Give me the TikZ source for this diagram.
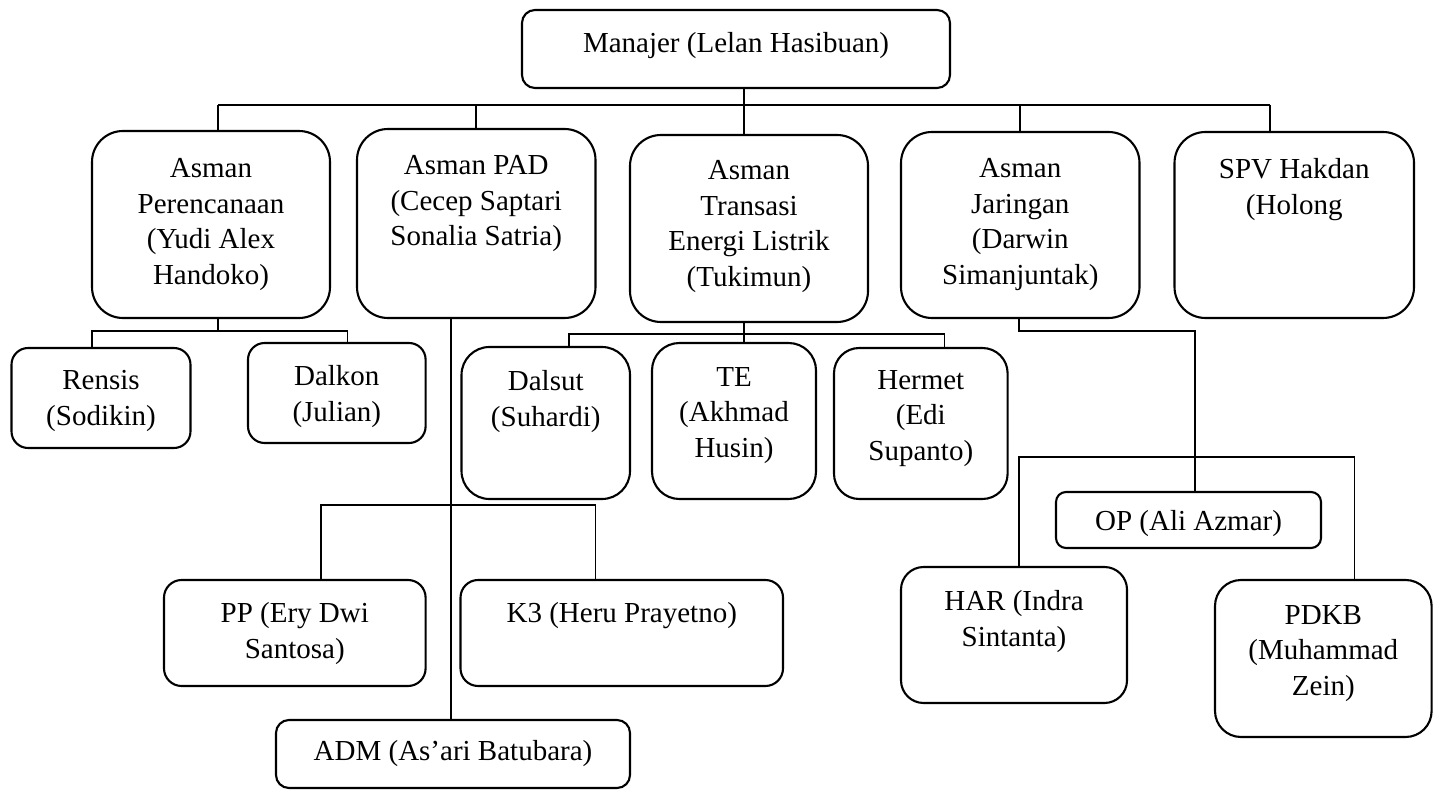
\documentclass[tikz,border=0pt]{standalone}
\usepackage{fontspec}
\setmainfont{Liberation Serif}
\begin{document}
\begin{tikzpicture}[x=0.5pt,y=-0.5pt,
  unit/.style={draw=black, line width=1.05pt, inner sep=0pt, outer sep=0pt, fill=white},
  lbl/.style={inner sep=0pt, outer sep=0pt, align=center, anchor=north,
              font=\fontsize{14.5pt}{17.75pt}\selectfont},
  link/.style={draw=black, line width=0.95pt}]
\useasboundingbox (0,0) rectangle (1433,790);

% top level
\node[unit, rounded corners=6.5pt, minimum width=214pt, minimum height=39pt] (m) at (736,49) {};
\node[lbl] (mT) at (736,32.5) {Manajer (Lelan Hasibuan)};

% assistant managers
\node[unit, rounded corners=15.5pt, minimum width=119pt, minimum height=93.5pt] (ap) at (211,224.5) {};
\node[lbl] (apT) at (211,158.5) {Asman\\Perencanaan\\(Yudi Alex\\Handoko)};

\node[unit, rounded corners=15.5pt, minimum width=119.25pt, minimum height=94.5pt] (apad) at (476.25,223.5) {};
\node[lbl] (apadT) at (476.25,155.5) {Asman PAD\\(Cecep Saptari\\Sonalia Satria)};

\node[unit, rounded corners=15.5pt, minimum width=119pt, minimum height=93.5pt] (at) at (749,228.5) {};
\node[lbl] (atT) at (749,160.5) {Asman\\Transasi\\Energi Listrik\\(Tukimun)};

\node[unit, rounded corners=15.5pt, minimum width=119.25pt, minimum height=93pt] (aj) at (1020.25,225) {};
\node[lbl] (ajT) at (1020.25,158.5) {Asman\\Jaringan\\(Darwin\\Simanjuntak)};

\node[unit, rounded corners=15.5pt, minimum width=119.75pt, minimum height=93pt] (spv) at (1294.25,225) {};
\node[lbl] (spvT) at (1294.25,158.5) {SPV Hakdan\\(Holong};

% under Perencanaan
\node[unit, rounded corners=8.3pt, minimum width=89.5pt, minimum height=50pt] (rensis) at (101,398) {};
\node[lbl] (rensisT) at (101,370.5) {Rensis\\(Sodikin)};

\node[unit, rounded corners=8.3pt, minimum width=88.8pt, minimum height=50pt] (dalkon) at (336.8,393) {};
\node[lbl] (dalkonT) at (336.8,365.5) {Dalkon\\(Julian)};

% under Transasi
\node[unit, rounded corners=14pt, minimum width=84.25pt, minimum height=76pt] (dalsut) at (545.75,423) {};
\node[lbl] (dalsutT) at (545.75,370.5) {Dalsut\\(Suhardi)};

\node[unit, rounded corners=13.7pt, minimum width=82pt, minimum height=78pt] (te) at (734,421) {};
\node[lbl] (teT) at (734,367.5) {TE\\(Akhmad\\Husin)};

\node[unit, rounded corners=12.6pt, minimum width=86.8pt, minimum height=75.5pt] (hermet) at (920.8,423.5) {};
\node[lbl] (hermetT) at (920.8,370.5) {Hermet\\(Edi\\Supanto)};

% under PAD
\node[unit, rounded corners=8.8pt, minimum width=130.8pt, minimum height=53pt] (pp) at (294.8,633) {};
\node[lbl] (ppT) at (294.8,602.5) {PP (Ery Dwi\\Santosa)};

\node[unit, rounded corners=8.8pt, minimum width=161.25pt, minimum height=53pt] (k3) at (621.75,633) {};
\node[lbl] (k3T) at (621.75,602.5) {K3 (Heru Prayetno)};

\node[unit, rounded corners=6.5pt, minimum width=177pt, minimum height=34pt] (adm) at (453,754) {};
\node[lbl] (admT) at (453,740.5) {ADM (As’ari Batubara)};

% under Jaringan
\node[unit, rounded corners=5pt, minimum width=132.5pt, minimum height=28pt] (op) at (1188.5,520) {};
\node[lbl] (opT) at (1188.5,510.5) {OP (Ali Azmar)};

\node[unit, rounded corners=11.3pt, minimum width=113pt, minimum height=68pt] (har) at (1014,635) {};
\node[lbl] (harT) at (1014,590.5) {HAR (Indra\\Sintanta)};

\node[unit, rounded corners=13pt, minimum width=108.3pt, minimum height=78.5pt] (pdkb) at (1323.3,658.5) {};
\node[lbl] (pdkbT) at (1323.3,605.5) {PDKB\\(Muhammad\\Zein)};

% junction points of the connectors
\coordinate (b1) at (218,105);
\coordinate (b5) at (1270,105);
\coordinate (c1) at (92,331);
\coordinate (c2) at (347.5,331);
\coordinate (d0) at (451,505);
\coordinate (d1) at (321,505);
\coordinate (d2) at (595.5,505);
\coordinate (e0) at (744,334);
\coordinate (e1) at (569,334);
\coordinate (e2) at (944.5,334);
\coordinate (f0) at (1019,331);
\coordinate (f1) at (1194.6,331);
\coordinate (g1) at (1019,456.7);
\coordinate (g2) at (1354.5,456.7);

% manager to assistant managers
\draw[link] (b1) -- (b5);
\draw[link] (e0 |- m.south) -- (e0 |- at.north);
\draw[link] (b1) -- (b1 |- ap.north);
\draw[link] (apad.north |- b1) -- (apad.north);
\draw[link] (aj.north |- b1) -- (aj.north);
\draw[link] (b5) -- (b5 |- spv.north);

% Perencanaan branch
\draw[link] (b1 |- ap.south) -- (b1 |- c1);
\draw[link] (c1 |- rensis.north) -- (c1) -- (c2) -- (c2 |- dalkon.north);

% PAD branch
\draw[link] (d0 |- apad.south) -- (d0 |- adm.north);
\draw[link] (d1 |- pp.north) -- (d1) -- (d2) -- (d2 |- k3.north);

% Transasi branch
\draw[link] (e0 |- at.south) -- (e0 |- te.north);
\draw[link] (e1 |- dalsut.north) -- (e1) -- (e2) -- (e2 |- hermet.north);

% Jaringan branch
\draw[link] (f0 |- aj.south) -- (f0) -- (f1) -- (f1 |- op.north);
\draw[link] (g1 |- har.north) -- (g1) -- (g2) -- (g2 |- pdkb.north);
\end{tikzpicture}
\end{document}
